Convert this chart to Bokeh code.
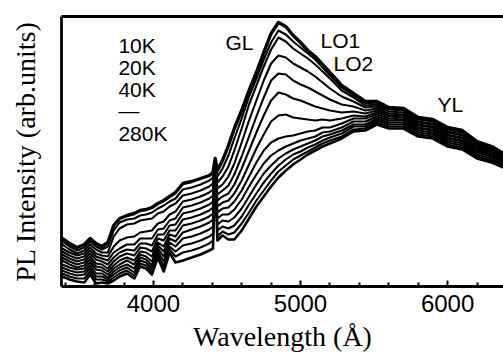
from bokeh.plotting import figure
from bokeh.models import FixedTicker, LinearAxis, Label
from bokeh.embed import file_html
from bokeh.resources import INLINE

# Wavelength grid (Angstrom)
wavelength = [3380, 3430, 3480, 3530, 3570, 3610, 3650, 3690, 3730, 3770,
              3820, 3870, 3910, 3950, 3990, 4030, 4070, 4110, 4150, 4200,
              4260, 4320, 4380, 4405, 4420, 4435, 4470, 4510, 4550, 4600,
              4650, 4700, 4750, 4800, 4850, 4900, 4950, 5000, 5050, 5100,
              5150, 5200, 5280, 5360, 5440, 5520, 5600, 5700, 5800, 5900,
              6000, 6100, 6200, 6300, 6380]

# PL intensity (arb. units), one list per temperature
t10 = [48, 43, 39, 42, 48, 43, 40, 44, 61, 68, 71, 73, 76, 77, 79, 83, 86, 90, 94, 103,
       105, 108, 111, 114, 128, 116, 126, 141, 158, 176, 196, 214, 234, 253, 264, 260, 251, 244, 236, 230,
       222, 214, 201, 193, 185, 185, 179, 178, 169, 167, 159, 156, 145, 140, 133]
t20 = [45, 40, 36, 39, 45, 40, 37, 40, 56, 64, 67, 68, 71, 72, 74, 78, 81, 85, 88, 97,
       99, 102, 106, 109, 127, 110, 118, 131, 148, 168, 190, 208, 227, 244, 256, 252, 245, 239, 233, 227,
       219, 211, 199, 191, 183, 184, 178, 177, 168, 166, 158, 155, 144, 139, 132]
t40 = [42, 37, 33, 36, 42, 37, 34, 34, 50, 58, 62, 63, 66, 67, 68, 73, 75, 80, 83, 91,
       93, 96, 100, 103, 126, 104, 110, 120, 136, 158, 182, 201, 220, 237, 249, 245, 238, 233, 228, 222,
       215, 208, 196, 189, 181, 182, 177, 176, 167, 165, 157, 154, 143, 138, 131]
t60 = [38, 34, 31, 33, 39, 33, 31, 30, 40, 46, 49, 50, 54, 55, 56, 63, 65, 72, 75, 85,
       87, 90, 94, 97, 125, 98, 102, 110, 123, 144, 166, 186, 206, 223, 231, 229, 223, 219, 215, 210,
       204, 198, 190, 185, 179, 180, 175, 174, 165, 163, 155, 152, 142, 137, 130]
t80 = [35, 31, 28, 30, 36, 30, 28, 26, 34, 38, 42, 42, 48, 48, 48, 57, 58, 66, 68, 79,
       81, 84, 88, 91, 124, 92, 96, 101, 112, 130, 150, 170, 189, 206, 213, 212, 206, 202, 199, 195,
       191, 187, 182, 180, 176, 178, 173, 172, 164, 162, 154, 151, 141, 136, 129]
t100 = [32, 28, 25, 27, 33, 27, 25, 22, 29, 34, 37, 36, 43, 43, 41, 52, 52, 61, 62, 73,
        75, 78, 82, 85, 123, 86, 90, 93, 102, 118, 136, 154, 171, 186, 194, 192, 188, 186, 183, 180,
        178, 176, 174, 175, 173, 176, 171, 171, 162, 160, 152, 149, 139, 135, 128]
t120 = [29, 25, 22, 24, 30, 23, 22, 18, 25, 30, 33, 31, 39, 38, 35, 48, 46, 56, 56, 67,
        69, 72, 76, 79, 122, 80, 84, 86, 93, 106, 122, 138, 152, 165, 171, 172, 169, 168, 167, 166,
        167, 166, 168, 171, 170, 174, 170, 169, 161, 159, 151, 148, 138, 134, 127]
t140 = [26, 22, 19, 21, 27, 20, 19, 15, 21, 26, 29, 26, 35, 34, 30, 44, 40, 52, 50, 61,
        63, 66, 70, 73, 121, 74, 78, 79, 85, 96, 110, 124, 136, 144, 148, 150, 151, 153, 155, 156,
        159, 159, 163, 168, 168, 172, 168, 167, 159, 157, 149, 146, 137, 132, 126]
t160 = [22, 19, 17, 18, 24, 17, 16, 12, 18, 22, 26, 22, 32, 30, 25, 41, 35, 48, 45, 54,
        57, 60, 64, 67, 120, 68, 72, 72, 77, 87, 100, 112, 123, 131, 136, 140, 143, 146, 148, 150,
        154, 155, 159, 165, 165, 170, 166, 166, 158, 156, 148, 145, 135, 131, 125]
t180 = [19, 16, 14, 15, 21, 13, 13, 9, 15, 19, 22, 18, 29, 27, 21, 38, 30, 44, 40, 48,
        50, 53, 57, 60, 119, 62, 66, 65, 69, 78, 90, 102, 113, 121, 128, 133, 137, 140, 143, 146,
        150, 152, 156, 162, 162, 168, 164, 164, 156, 154, 146, 143, 134, 130, 124]
t200 = [16, 13, 11, 12, 18, 10, 10, 7, 12, 16, 19, 14, 26, 24, 18, 35, 25, 40, 35, 41,
        43, 46, 50, 53, 118, 56, 60, 58, 61, 70, 82, 93, 104, 113, 121, 127, 132, 135, 139, 142,
        146, 149, 153, 160, 160, 166, 162, 162, 154, 152, 144, 141, 132, 128, 122]
t240 = [13, 10, 8, 8, 15, 7, 7, 5, 9, 13, 16, 11, 23, 21, 15, 32, 20, 37, 30, 34,
        36, 39, 43, 46, 117, 50, 55, 52, 54, 63, 74, 86, 96, 106, 115, 121, 127, 131, 135, 139,
        143, 146, 150, 157, 158, 164, 160, 160, 152, 150, 142, 139, 130, 126, 121]
t280 = [10, 7, 5, 4, 12, 3, 4, 3, 6, 10, 13, 8, 20, 18, 12, 29, 15, 34, 24, 26,
        29, 32, 36, 38, 116, 46, 51, 47, 47, 56, 68, 80, 90, 100, 109, 116, 122, 127, 132, 136,
        140, 143, 148, 155, 156, 162, 158, 158, 150, 148, 140, 137, 128, 124, 119]

curves = [t10, t20, t40, t60, t80, t100, t120, t140, t160, t180, t200, t240, t280]

major_ticks = [4000, 5000, 6000]
minor_ticks = [3400, 3600, 3800, 4200, 4400, 4600, 4800, 5200, 5400, 5600, 5800, 6200]

p = figure(width=503, height=358, x_range=(3375, 6380), y_range=(0, 270),
           output_backend="svg", toolbar_location=None,
           min_border_left=61, min_border_right=0, min_border_top=16, min_border_bottom=72,
           background_fill_color="white", border_fill_color="white")
p.outline_line_color = None
p.xgrid.visible = False
p.ygrid.visible = False

for i, c in enumerate(curves):
    lw = 3.4 if i == 0 else (2.6 if i == len(curves) - 1 else 2.1)
    p.line(wavelength, c, line_color="black", line_width=lw, line_join="round")

# bottom axis
xa = p.xaxis[0]
xa.ticker = FixedTicker(ticks=major_ticks, minor_ticks=minor_ticks)
xa.axis_line_width = 2.8
xa.major_tick_in = 6
xa.major_tick_out = 0
xa.minor_tick_in = 4
xa.minor_tick_out = 0
xa.major_tick_line_width = 2
xa.minor_tick_line_width = 2
xa.major_label_text_font = "Liberation Sans"
xa.major_label_text_font_size = "24px"
xa.major_label_text_color = "black"
xa.major_label_standoff = 8
xa.axis_label = "Wavelength (Å)"
xa.axis_label_text_font = "Liberation Serif"
xa.axis_label_text_font_size = "28px"
xa.axis_label_text_font_style = "normal"
xa.axis_label_text_color = "black"
xa.axis_label_standoff = 6

# left axis
ya = p.yaxis[0]
ya.ticker = FixedTicker(ticks=[])
ya.axis_line_width = 2.8
ya.major_tick_out = 0
ya.minor_tick_out = 0
ya.axis_label = "PL Intensity (arb.units)"
ya.axis_label_text_font = "Liberation Serif"
ya.axis_label_text_font_size = "28px"
ya.axis_label_text_font_style = "normal"
ya.axis_label_text_color = "black"
ya.axis_label_standoff = 21

# top border
top = LinearAxis(ticker=FixedTicker(ticks=[]), axis_line_width=2.8,
                 major_tick_out=0, minor_tick_out=0)
p.add_layout(top, "above")

labels = [("10K", 3762, 241), ("20K", 3762, 219), ("40K", 3762, 197),
          ("\u2014", 3762, 176), ("280K", 3762, 153),
          ("GL", 4490, 244), ("LO1", 5136, 246), ("LO2", 5224, 223), ("YL", 5932, 182)]
for t, x, y in labels:
    p.add_layout(Label(x=x, y=y, text=t, text_font="Liberation Sans",
                       text_font_size="21px", text_color="black",
                       text_baseline="alphabetic"))

open("out.html", "w").write(file_html(p, INLINE))
